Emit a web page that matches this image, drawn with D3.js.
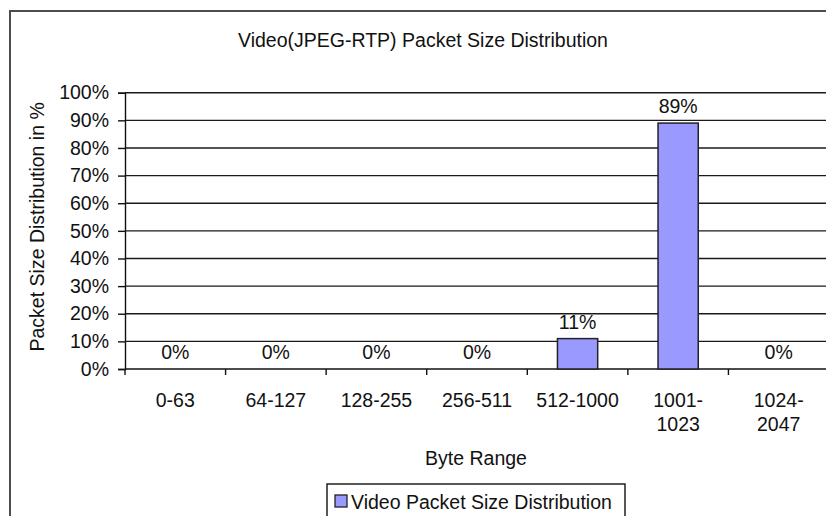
<!DOCTYPE html>
<html>
<head>
<meta charset="utf-8">
<script src="https://cdn.jsdelivr.net/npm/d3@7"></script>
<style>
  body { margin: 0; background: #fff; }
  text { font-family: "Liberation Sans", Arial, sans-serif; fill: #111; }
</style>
</head>
<body>
<div id="chart"></div>
<script>
// data
const categories = ["0-63", "64-127", "128-255", "256-511", "512-1000", "1001-1023", "1024-2047"];
const categoryLines = [["0-63"], ["64-127"], ["128-255"], ["256-511"], ["512-1000"], ["1001-", "1023"], ["1024-", "2047"]];
const values = [0, 0, 0, 0, 11, 89, 0];
const yTicks = [0, 10, 20, 30, 40, 50, 60, 70, 80, 90, 100];
const seriesName = "Video Packet Size Distribution";

const w = 826;
const h = 516;
const fontSize = 19.5;

// plot area runs off the right edge, like the original
const plot = { left: 125, right: 829, top: 92.7, bottom: 369 };

const svg = d3.select("#chart")
  .append("svg")
  .attr("width", w)
  .attr("height", h);

// outer chart border
svg.append("rect")
  .attr("x", 10)
  .attr("y", 11)
  .attr("width", 840)
  .attr("height", 540)
  .attr("fill", "#fff")
  .attr("stroke", "#4d4d4d")
  .attr("stroke-width", 2);

const xScale = d3.scaleBand()
  .domain(categories)
  .range([plot.left, plot.right])
  .paddingInner(0.6)
  .paddingOuter(0.3);

const yScale = d3.scaleLinear()
  .domain([0, 100])
  .range([plot.bottom, plot.top]);

// gridlines
svg.append("g")
  .selectAll("line")
  .data(yTicks.filter(d => d > 0))
  .enter()
  .append("line")
  .attr("x1", plot.left)
  .attr("x2", plot.right)
  .attr("y1", d => yScale(d))
  .attr("y2", d => yScale(d))
  .attr("stroke", "#1a1a1a")
  .attr("stroke-width", 1.4);

// y axis
const yAxis = d3.axisLeft(yScale)
  .tickValues(yTicks)
  .tickSize(7)
  .tickPadding(9)
  .tickFormat(d => d + "%");

const gy = svg.append("g")
  .attr("transform", "translate(" + plot.left + ",0)")
  .call(yAxis);
gy.selectAll("path, line").attr("stroke", "#111").attr("stroke-width", 1.4);
gy.selectAll("text").attr("font-size", fontSize).attr("font-family", null);

// x axis: ticks sit between categories
const step = xScale.step();
const boundaries = d3.range(categories.length + 1).map(i => plot.left + i * step);

svg.append("line")
  .attr("x1", plot.left)
  .attr("x2", plot.right)
  .attr("y1", plot.bottom)
  .attr("y2", plot.bottom)
  .attr("stroke", "#111")
  .attr("stroke-width", 1.4);

svg.append("g")
  .selectAll("line")
  .data(boundaries)
  .enter()
  .append("line")
  .attr("x1", d => d)
  .attr("x2", d => d)
  .attr("y1", plot.bottom)
  .attr("y2", plot.bottom + 6)
  .attr("stroke", "#111")
  .attr("stroke-width", 1.4);

const xLabels = svg.append("g")
  .selectAll("text")
  .data(categories)
  .enter()
  .append("text")
  .attr("text-anchor", "middle")
  .attr("font-size", fontSize)
  .attr("x", d => xScale(d) + xScale.bandwidth() / 2)
  .attr("y", 407);

xLabels.each(function(d, i) {
  const t = d3.select(this);
  categoryLines[i].forEach((line, j) => {
    t.append("tspan")
      .attr("x", xScale(d) + xScale.bandwidth() / 2)
      .attr("dy", j === 0 ? 0 : 24)
      .text(line);
  });
});

// bars
svg.append("g")
  .selectAll("rect")
  .data(values)
  .enter()
  .append("rect")
  .attr("x", (d, i) => xScale(categories[i]))
  .attr("y", d => yScale(d))
  .attr("width", xScale.bandwidth())
  .attr("height", d => plot.bottom - yScale(d))
  .attr("fill", "#9999ff")
  .attr("stroke", "#222")
  .attr("stroke-width", d => d > 0 ? 1.5 : 0);

// value labels
svg.append("g")
  .selectAll("text")
  .data(values)
  .enter()
  .append("text")
  .attr("text-anchor", "middle")
  .attr("font-size", fontSize)
  .attr("x", (d, i) => xScale(categories[i]) + xScale.bandwidth() / 2)
  .attr("y", d => yScale(d) - 10)
  .text(d => d + "%");

// titles
svg.append("text")
  .attr("x", 423)
  .attr("y", 47)
  .attr("text-anchor", "middle")
  .attr("font-size", fontSize)
  .text("Video(JPEG-RTP) Packet Size Distribution");

svg.append("text")
  .attr("transform", "translate(44," + ((plot.top + plot.bottom) / 2 - 4) + ") rotate(-90)")
  .attr("text-anchor", "middle")
  .attr("font-size", fontSize)
  .text("Packet Size Distribution in %");

svg.append("text")
  .attr("x", (plot.left + plot.right) / 2 - 1)
  .attr("y", 465)
  .attr("text-anchor", "middle")
  .attr("font-size", fontSize)
  .text("Byte Range");

// legend
const legend = svg.append("g");
legend.append("rect")
  .attr("x", 327)
  .attr("y", 484)
  .attr("width", 298)
  .attr("height", 50)
  .attr("fill", "#fff")
  .attr("stroke", "#111")
  .attr("stroke-width", 1.4);
legend.append("rect")
  .attr("x", 335)
  .attr("y", 495)
  .attr("width", 12)
  .attr("height", 12)
  .attr("fill", "#9999ff")
  .attr("stroke", "#222")
  .attr("stroke-width", 1.3);
legend.append("text")
  .attr("x", 351)
  .attr("y", 509)
  .attr("font-size", fontSize)
  .text(seriesName);
</script>
</body>
</html>
